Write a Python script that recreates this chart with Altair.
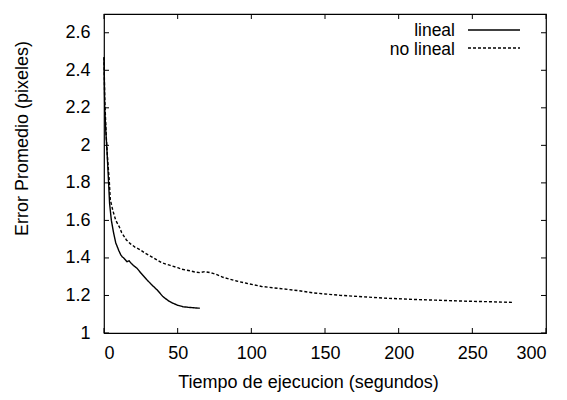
import altair as alt
import pandas as pd

# ---- data ----
series_names = ["lineal", "no lineal"]

lineal_t = [0, 0.5, 1.2, 2, 3, 3.8, 5, 6.6, 8, 10, 11.5, 12.5, 13.4, 14.5, 15.6, 17,
            18.6, 20, 22.4, 25, 29.2, 32, 36, 40, 44, 47, 50, 53.6, 57, 60, 63, 65]
lineal_err = [2.47, 2.2, 2.08, 1.976, 1.82, 1.69, 1.60, 1.53, 1.48, 1.44, 1.415, 1.405,
              1.40, 1.39, 1.38, 1.385, 1.37, 1.36, 1.345, 1.32, 1.283, 1.26, 1.23,
              1.194, 1.17, 1.158, 1.148, 1.14, 1.137, 1.135, 1.133, 1.132]

nolineal_t = [0, 0.5, 1.5, 2.5, 3.5, 4.3, 6.1, 8, 10.3, 12, 15.2, 18, 21, 24.7, 28, 33.7,
              39, 45, 50, 53, 56, 58.2, 61.6, 65, 68.4, 71.8, 74, 77, 80.8, 84, 90,
              96.7, 107, 119.3, 131.7, 141.9, 150, 160, 175.8, 190, 209.8, 225, 243.7,
              260, 277.7]
nolineal_err = [2.47, 2.25, 2.05, 1.92, 1.82, 1.71, 1.65, 1.60, 1.567, 1.535, 1.496,
                1.475, 1.458, 1.443, 1.425, 1.40, 1.375, 1.36, 1.348, 1.34, 1.335,
                1.332, 1.325, 1.322, 1.327, 1.322, 1.318, 1.31, 1.297, 1.29, 1.277,
                1.265, 1.248, 1.237, 1.226, 1.214, 1.208, 1.201, 1.193, 1.186, 1.179,
                1.175, 1.17, 1.167, 1.163]

x_ticks = [0, 50, 100, 150, 200, 250, 300]
y_ticks = [1, 1.2, 1.4, 1.6, 1.8, 2, 2.2, 2.4, 2.6]

# ---- tables ----
df = pd.concat([
    pd.DataFrame({"t": lineal_t, "err": lineal_err, "serie": series_names[0]}),
    pd.DataFrame({"t": nolineal_t, "err": nolineal_err, "serie": series_names[1]}),
])
xt = pd.DataFrame({"t": x_ticks})
yt = pd.DataFrame({"err": y_ticks})

W, H = 442, 319
FONT = "Liberation Sans"
TL = 5

xscale = alt.Scale(domain=[0, 300], nice=False, zero=False)
yscale = alt.Scale(domain=[1, 2.7], nice=False, zero=False)

xaxis = alt.Axis(values=x_ticks, title="Tiempo de ejecucion (segundos)",
                 ticks=False, grid=False, domain=False, labelPadding=11,
                 labelFontSize=18, labelFont=FONT, labelColor="black",
                 titleFontSize=18, titleFont=FONT, titleFontWeight="normal",
                 titleColor="black", titleBaseline="top", titleY=40,
                 titleX=204, titleAlign="center")
yaxis = alt.Axis(values=y_ticks, title="Error Promedio (pixeles)",
                 format="~g", ticks=False, grid=False, domain=False,
                 labelPadding=14, labelFontSize=18, labelFont=FONT,
                 labelColor="black", titleFontSize=18, titleFont=FONT,
                 titleFontWeight="normal", titleColor="black",
                 titleAngle=-90, titleBaseline="alphabetic", titleX=-77,
                 titleY=124, titleAlign="center")

lines = alt.Chart(df).mark_line(color="black", strokeWidth=1.4).encode(
    x=alt.X("t:Q", scale=xscale, axis=xaxis),
    y=alt.Y("err:Q", scale=yscale, axis=yaxis),
    strokeDash=alt.StrokeDash("serie:N",
                              scale=alt.Scale(domain=series_names, range=[[1, 0], [3, 2]]),
                              legend=None),
    detail="serie:N",
)

tick_b = alt.Chart(xt).mark_rule(color="black", strokeWidth=1).encode(
    x=alt.X("t:Q", scale=xscale, axis=xaxis), y=alt.value(H), y2=alt.value(H - TL))
tick_t = alt.Chart(xt).mark_rule(color="black", strokeWidth=1).encode(
    x=alt.X("t:Q", scale=xscale, axis=xaxis), y=alt.value(0), y2=alt.value(TL))
tick_l = alt.Chart(yt).mark_rule(color="black", strokeWidth=1).encode(
    y=alt.Y("err:Q", scale=yscale, axis=yaxis), x=alt.value(0), x2=alt.value(TL))
tick_r = alt.Chart(yt).mark_rule(color="black", strokeWidth=1).encode(
    y=alt.Y("err:Q", scale=yscale, axis=yaxis), x=alt.value(W), x2=alt.value(W - TL))

# ---- legend (gnuplot style: label then sample) ----
leg = pd.DataFrame({"serie": series_names})
leg_text1 = alt.Chart(leg).transform_filter(alt.datum.serie == series_names[0]).mark_text(
    align="right", baseline="alphabetic", fontSize=17.5, font=FONT, color="black").encode(
    text="serie:N", x=alt.value(351), y=alt.value(22))
leg_text2 = alt.Chart(leg).transform_filter(alt.datum.serie == series_names[1]).mark_text(
    align="right", baseline="alphabetic", fontSize=17.5, font=FONT, color="black").encode(
    text="serie:N", x=alt.value(351), y=alt.value(41))
leg_line1 = alt.Chart(leg).transform_filter(alt.datum.serie == series_names[0]).mark_rule(
    color="black", strokeWidth=1.4).encode(
    x=alt.value(364), x2=alt.value(416), y=alt.value(16))
leg_line2 = alt.Chart(leg).transform_filter(alt.datum.serie == series_names[1]).mark_rule(
    color="black", strokeWidth=1.4, strokeDash=[3, 2]).encode(
    x=alt.value(364), x2=alt.value(416), y=alt.value(34))

chart = alt.layer(lines, tick_b, tick_t, tick_l, tick_r,
                  leg_text1, leg_text2, leg_line1, leg_line2).properties(
    width=W, height=H,
    autosize=alt.AutoSizeParams(type="none"),
    padding={"left": 96, "top": 6, "right": 13, "bottom": 59},
    background="white",
).configure_view(stroke="black", strokeWidth=1.2)

chart.save("out.html", embed_options={"renderer": "svg", "actions": False})
